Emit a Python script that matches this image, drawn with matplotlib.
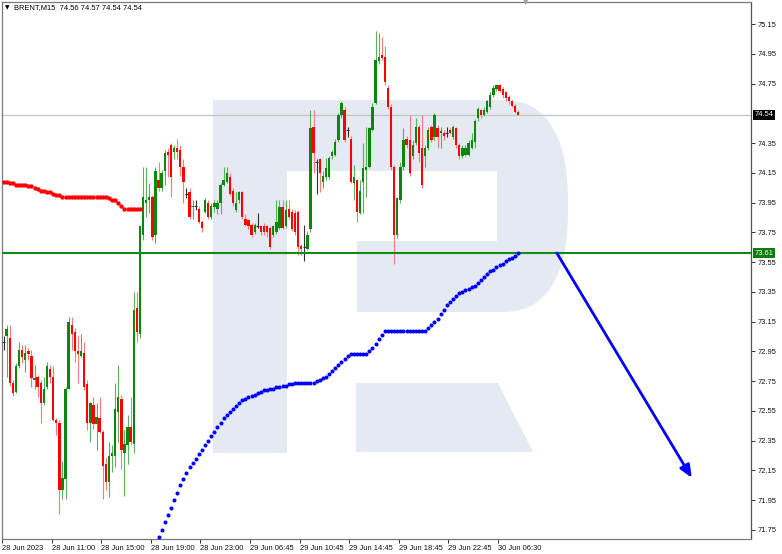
import matplotlib
matplotlib.use("Agg")
import matplotlib.pyplot as plt
import matplotlib.transforms as mtransforms
from matplotlib.patches import Polygon
import numpy as np

plt.rcParams['font.family'] = ['Liberation Sans', 'DejaVu Sans']

# ---------------- data ----------------
symbol = "BRENT,M15"
header_ohlc = ["74.56", "74.57", "74.54", "74.54"]

opens = [73.01, 73.05, 73.04, 72.74, 72.68, 72.85, 72.96, 72.89, 72.95, 72.92,
         72.76, 72.78, 72.74, 72.60, 72.71, 72.83, 72.78, 72.49, 72.47, 72.02,
         72.09, 72.70, 73.13, 73.08, 72.95, 72.92, 72.94, 72.73, 72.47, 72.59,
         72.46, 72.50, 72.41, 72.19, 72.07, 72.25, 72.25, 72.54, 72.63, 72.27,
         72.32, 72.44, 72.33, 73.24, 73.07, 73.73, 73.95, 73.97, 73.99, 73.73,
         74.10, 74.05, 74.16, 74.29, 74.34, 74.29, 74.32, 74.30, 74.19, 74.01,
         74.02, 73.92, 73.93, 73.91, 73.82, 73.89, 73.95, 73.85, 73.92, 73.91,
         73.95, 74.07, 74.09, 74.12, 74.03, 73.90, 73.97, 74.02, 73.84, 73.83,
         73.80, 73.75, 73.79, 73.79, 73.79, 73.79, 73.78, 73.73, 73.75, 73.78,
         73.92, 73.79, 73.91, 73.89, 73.88, 73.89, 73.66, 73.65, 73.64, 73.77,
         74.46, 74.22, 74.24, 74.09, 74.12, 74.12, 74.26, 74.27, 74.37, 74.54,
         74.57, 74.44, 74.38, 74.08, 74.10, 73.88, 74.09, 74.17, 74.19, 74.44,
         74.62, 74.90, 74.94, 74.93, 74.72, 74.59, 74.19, 73.73, 73.97, 74.19,
         74.38, 74.37, 74.26, 74.35, 74.46, 74.32, 74.26, 74.32, 74.46, 74.39,
         74.45, 74.42, 74.42, 74.42, 74.44, 74.39, 74.45, 74.34, 74.26, 74.27,
         74.27, 74.32, 74.36, 74.52, 74.57, 74.54, 74.56, 74.59, 74.67, 74.71,
         74.74, 74.71, 74.69, 74.66, 74.63, 74.60, 74.56]
highs = [73.05, 73.13, 73.13, 72.76, 72.87, 73.01, 72.99, 72.99, 72.97, 72.96,
         72.86, 72.79, 72.76, 72.78, 72.88, 72.86, 72.85, 72.50, 72.49, 72.21,
         72.71, 73.18, 73.18, 73.11, 73.05, 73.07, 73.01, 72.76, 72.61, 72.64,
         72.60, 72.64, 72.42, 72.24, 72.34, 72.32, 72.74, 72.86, 72.66, 72.42,
         72.52, 72.64, 73.35, 73.35, 73.80, 74.19, 74.19, 74.08, 74.00, 74.19,
         74.22, 74.17, 74.30, 74.32, 74.35, 74.34, 74.38, 74.34, 74.24, 74.05,
         74.05, 73.97, 73.97, 73.93, 73.83, 73.98, 73.97, 73.95, 73.97, 73.97,
         74.08, 74.19, 74.19, 74.15, 74.05, 74.02, 74.03, 74.03, 73.87, 73.84,
         73.81, 73.81, 73.88, 73.80, 73.81, 73.80, 73.79, 73.80, 73.97, 73.97,
         73.97, 73.97, 73.97, 73.91, 73.90, 73.90, 73.67, 73.80, 73.76, 74.57,
         74.57, 74.24, 74.25, 74.16, 74.25, 74.26, 74.30, 74.38, 74.55, 74.63,
         74.59, 74.46, 74.40, 74.20, 74.11, 74.10, 74.35, 74.46, 74.46, 74.62,
         75.10, 75.09, 75.06, 75.00, 74.74, 74.61, 74.20, 73.99, 74.22, 74.45,
         74.40, 74.54, 74.37, 74.52, 74.47, 74.54, 74.34, 74.46, 74.47, 74.55,
         74.47, 74.46, 74.44, 74.46, 74.45, 74.47, 74.46, 74.35, 74.34, 74.34,
         74.37, 74.42, 74.51, 74.59, 74.58, 74.59, 74.64, 74.69, 74.74, 74.75,
         74.75, 74.73, 74.70, 74.67, 74.64, 74.61, 74.57]
lows = [72.96, 72.78, 72.72, 72.65, 72.67, 72.84, 72.87, 72.81, 72.89, 72.71,
        72.70, 72.64, 72.47, 72.59, 72.70, 72.74, 72.48, 72.39, 71.86, 71.96,
        71.96, 72.70, 72.96, 72.88, 72.74, 72.91, 72.69, 72.42, 72.34, 72.43,
        72.29, 72.40, 71.96, 72.02, 71.97, 72.14, 72.17, 72.34, 72.16, 71.98,
        72.19, 72.32, 72.27, 73.01, 73.04, 73.70, 73.85, 73.88, 73.70, 73.68,
        74.03, 74.03, 74.07, 74.12, 73.99, 74.24, 74.24, 74.13, 73.95, 73.98,
        73.84, 73.84, 73.90, 73.81, 73.75, 73.88, 73.84, 73.84, 73.89, 73.87,
        73.87, 74.06, 74.08, 74.00, 73.93, 73.89, 73.95, 73.84, 73.79, 73.77,
        73.72, 73.74, 73.78, 73.73, 73.73, 73.72, 73.64, 73.72, 73.74, 73.77,
        73.77, 73.78, 73.84, 73.76, 73.73, 73.60, 73.60, 73.56, 73.63, 73.75,
        74.15, 74.01, 74.02, 74.05, 74.10, 74.11, 74.24, 74.26, 74.36, 74.52,
        74.36, 74.39, 74.08, 73.97, 73.82, 73.87, 73.88, 73.99, 74.18, 74.43,
        74.61, 74.88, 74.91, 74.74, 74.58, 74.17, 73.54, 73.71, 73.95, 74.17,
        74.32, 74.13, 74.24, 74.34, 74.22, 74.05, 74.19, 74.30, 74.36, 74.37,
        74.32, 74.32, 74.37, 74.39, 74.41, 74.38, 74.32, 74.24, 74.25, 74.26,
        74.26, 74.31, 74.32, 74.50, 74.52, 74.53, 74.55, 74.58, 74.66, 74.70,
        74.69, 74.65, 74.63, 74.61, 74.59, 74.55, 74.54]
closes = [73.01, 73.10, 72.74, 72.67, 72.85, 72.96, 72.91, 72.94, 72.93, 72.77,
          72.77, 72.71, 72.60, 72.70, 72.85, 72.78, 72.49, 72.47, 72.02, 72.10,
          72.70, 73.15, 73.07, 72.95, 72.93, 72.95, 72.71, 72.47, 72.60, 72.46,
          72.51, 72.41, 72.18, 72.07, 72.25, 72.27, 72.56, 72.64, 72.29, 72.33,
          72.44, 72.34, 73.23, 73.08, 73.79, 73.99, 73.97, 73.99, 73.72, 74.16,
          74.05, 74.15, 74.28, 74.27, 74.12, 74.32, 74.29, 74.19, 74.09, 74.01,
          73.85, 73.93, 73.93, 73.82, 73.78, 73.97, 73.85, 73.93, 73.95, 73.95,
          74.07, 74.10, 74.15, 74.01, 73.95, 73.95, 74.02, 73.85, 73.80, 73.79,
          73.73, 73.80, 73.79, 73.75, 73.75, 73.75, 73.65, 73.79, 73.82, 73.92,
          73.78, 73.90, 73.85, 73.77, 73.75, 73.65, 73.64, 73.65, 73.73, 74.45,
          74.28, 74.22, 74.15, 74.13, 74.18, 74.25, 74.29, 74.36, 74.54, 74.62,
          74.37, 74.44, 74.09, 74.12, 73.89, 74.03, 74.18, 74.19, 74.45, 74.59,
          74.91, 74.93, 74.92, 74.76, 74.59, 74.19, 73.73, 73.98, 74.19, 74.37,
          74.34, 74.15, 74.34, 74.46, 74.28, 74.07, 74.32, 74.44, 74.37, 74.54,
          74.39, 74.43, 74.40, 74.42, 74.42, 74.46, 74.34, 74.26, 74.32, 74.32,
          74.35, 74.37, 74.50, 74.58, 74.54, 74.57, 74.63, 74.67, 74.72, 74.74,
          74.70, 74.67, 74.65, 74.63, 74.60, 74.56, 74.54]

# indicator dots (red segment starts at bar 0, blue segment at bar 50)
red_start = 0
red_vals = [74.09, 74.09, 74.08, 74.08, 74.07, 74.07, 74.07, 74.07, 74.06, 74.06,
            74.05, 74.04, 74.03, 74.03, 74.02, 74.02, 74.01, 74.00, 74.00, 73.99,
            73.99, 73.99, 73.99, 73.99, 73.99, 73.99, 73.99, 73.99, 73.99, 73.99,
            73.99, 73.99, 73.99, 73.99, 73.98, 73.97, 73.97, 73.95, 73.93, 73.91,
            73.91, 73.91, 73.91, 73.91, 73.91]
blue_start = 50
blue_vals = [71.70, 71.75, 71.80, 71.85, 71.90, 71.95, 72.00, 72.05, 72.09, 72.13,
             72.17, 72.20, 72.23, 72.26, 72.29, 72.32, 72.35, 72.38, 72.41, 72.44,
             72.47, 72.50, 72.52, 72.54, 72.56, 72.58, 72.60, 72.62, 72.63, 72.64,
             72.65, 72.66, 72.67, 72.68, 72.69, 72.69, 72.70, 72.70, 72.71, 72.71,
             72.72, 72.72, 72.73, 72.73, 72.74, 72.74, 72.74, 72.74, 72.74, 72.74,
             72.74, 72.75, 72.76, 72.77, 72.78, 72.80, 72.82, 72.84, 72.86, 72.88,
             72.90, 72.92, 72.93, 72.93, 72.93, 72.93, 72.93, 72.93, 72.95, 72.97,
             73.00, 73.03, 73.06, 73.09, 73.09, 73.09, 73.09, 73.09, 73.09, 73.09,
             73.09, 73.09, 73.09, 73.09, 73.09, 73.09, 73.09, 73.11, 73.13, 73.15,
             73.17, 73.20, 73.23, 73.26, 73.28, 73.30, 73.32, 73.34, 73.35, 73.36,
             73.37, 73.38, 73.39, 73.41, 73.43, 73.45, 73.47, 73.49, 73.50, 73.52,
             73.53, 73.54, 73.56, 73.57, 73.58, 73.59, 73.61]

bid_price = 74.54
level_price = 73.61
arrow_x = [178.5, 222.0]
arrow_y = [73.61, 72.10]

tick_bars = [0, 16, 32, 48, 64, 80, 96, 112, 128, 144, 160]
tick_labels = ['28 Jun 2023', '28 Jun 11:00', '28 Jun 15:00', '28 Jun 19:00',
               '28 Jun 23:00', '29 Jun 06:45', '29 Jun 10:45', '29 Jun 14:45',
               '29 Jun 18:45', '29 Jun 22:45', '30 Jun 06:30']
price_ticks = [75.15, 74.95, 74.75, 74.35, 74.15, 73.95, 73.75, 73.55, 73.35,
               73.15, 72.95, 72.75, 72.55, 72.35, 72.15, 71.95, 71.75]

# ---------------- figure ----------------
W, H = 782, 554
fig = plt.figure(figsize=(W / 100, H / 100), dpi=100, facecolor='white')
ax = fig.add_axes([2 / W, 1 - 539 / H, 749 / W, 537 / H])
ax.set_facecolor('white')


def px(x, y):
    return (x / W, 1 - y / H)


# watermark "R" logo
wm_col = '#e4e9f2'
stem = [px(213, 100), px(287, 100), px(287, 453), px(213, 453)]
t = np.linspace(-np.pi / 2, np.pi / 2, 80)
# slightly squarer than an ellipse for the bowl of the R
arc = [px(500 + 68 * np.sign(np.cos(a)) * abs(np.cos(a)) ** 0.8,
          206 + 106 * np.sign(np.sin(a)) * abs(np.sin(a)) ** 0.8) for a in t]
bowl = [px(287, 100)] + arc + [px(357, 312), px(357, 241), px(497, 241),
                               px(497, 171), px(287, 171)]
leg = [px(356, 383), px(498, 383), px(533, 452), px(356, 452)]
for pts in (stem, bowl, leg):
    ax.add_artist(Polygon(pts, closed=True, transform=fig.transFigure,
                          facecolor=wm_col, edgecolor='none', zorder=0.5))

# bid line
ax.axhline(bid_price, color='#c4c4c4', lw=0.9, zorder=1)

# candles
o = np.array(opens); h = np.array(highs); l = np.array(lows); c = np.array(closes)
xs = np.arange(len(o))
bull = c > o
bear = c < o
doji = ~(bull | bear)
wick_cols = np.where(bull, '#5fae5f', np.where(bear, '#ff7a7a', '#303030'))
ax.vlines(xs, l, h, colors=list(wick_cols), lw=0.8, zorder=3)
body_b = np.minimum(o, c)
body_h = np.abs(c - o)
ax.bar(xs[bull], body_h[bull], bottom=body_b[bull], width=0.75,
       color='#0b870b', linewidth=0, zorder=4)
ax.bar(xs[bear], body_h[bear], bottom=body_b[bear], width=0.75,
       color='#ff0000', linewidth=0, zorder=4)
ax.hlines(c[doji], xs[doji] - 0.5, xs[doji] + 0.5, colors='#303030', lw=0.8, zorder=4)

# level line
ax.axhline(level_price, color='#138a13', lw=1.5, zorder=5)

# indicator dots
ax.scatter(np.arange(red_start, red_start + len(red_vals)), red_vals, s=10,
           color='#ff0000', linewidths=0, zorder=6)
ax.scatter(np.arange(blue_start, blue_start + len(blue_vals)), blue_vals, s=8.5,
           color='#0000ff', linewidths=0, zorder=6)

# forecast arrow
ax.annotate('', xy=(arrow_x[1], arrow_y[1]), xytext=(arrow_x[0], arrow_y[0]),
            arrowprops=dict(arrowstyle='-|>,head_length=0.75,head_width=0.32',
                            color='#0000ff', lw=2.0, shrinkA=0, shrinkB=0,
                            mutation_scale=10), zorder=7)

ax.set_xlim(-0.5, 241.1)
ax.set_ylim(71.689, 75.298)

# axes styling
for s in ax.spines.values():
    s.set_color('#7a7a7a')
    s.set_linewidth(0.9)
ax.spines['right'].set_color('#505050')

ax.yaxis.tick_right()
ax.set_yticks(price_ticks)
ax.set_yticklabels([f'{v:.2f}' for v in price_ticks])
ax.tick_params(axis='y', length=3, width=0.7, pad=2, labelsize=5.4,
               colors='#303030', labelcolor='#111111')
ax.set_xticks(np.array(tick_bars) - 0.5)
ax.set_xticklabels(tick_labels, ha='left')
ax.tick_params(axis='x', length=3, width=0.7, pad=1, labelsize=5.4,
               colors='#303030', labelcolor='#111111')

# price tags on right scale
trans = mtransforms.blended_transform_factory(ax.transAxes, ax.transData)
ax.text(1 + 3.5 / 749, bid_price, f'{bid_price:.2f}', transform=trans, ha='left',
        va='center', fontsize=5.4, color='white', clip_on=False, zorder=10,
        bbox=dict(boxstyle='square,pad=0.22', fc='black', ec='none'))
ax.text(1 + 3.5 / 749, level_price, f'{level_price:.2f}', transform=trans, ha='left',
        va='center', fontsize=5.4, color='white', clip_on=False, zorder=10,
        bbox=dict(boxstyle='square,pad=0.22', fc='#0d7d0d', ec='none'))

# header
fig.text(5 / W, 1 - 8 / H, '▼', fontsize=4.2, color='black', va='center',
         family=['DejaVu Sans'])
fig.text(14 / W, 1 - 8 / H, symbol + '  ' + ' '.join(header_ohlc), fontsize=5.4,
         color='black', va='center')

# shift marker at top
fig.text(526 / W, 1 - 2 / H, '▼', fontsize=5, color='#a0a0a0', ha='center',
         va='center', family=['DejaVu Sans'])

fig.savefig('out.png', dpi=100, facecolor='white')
